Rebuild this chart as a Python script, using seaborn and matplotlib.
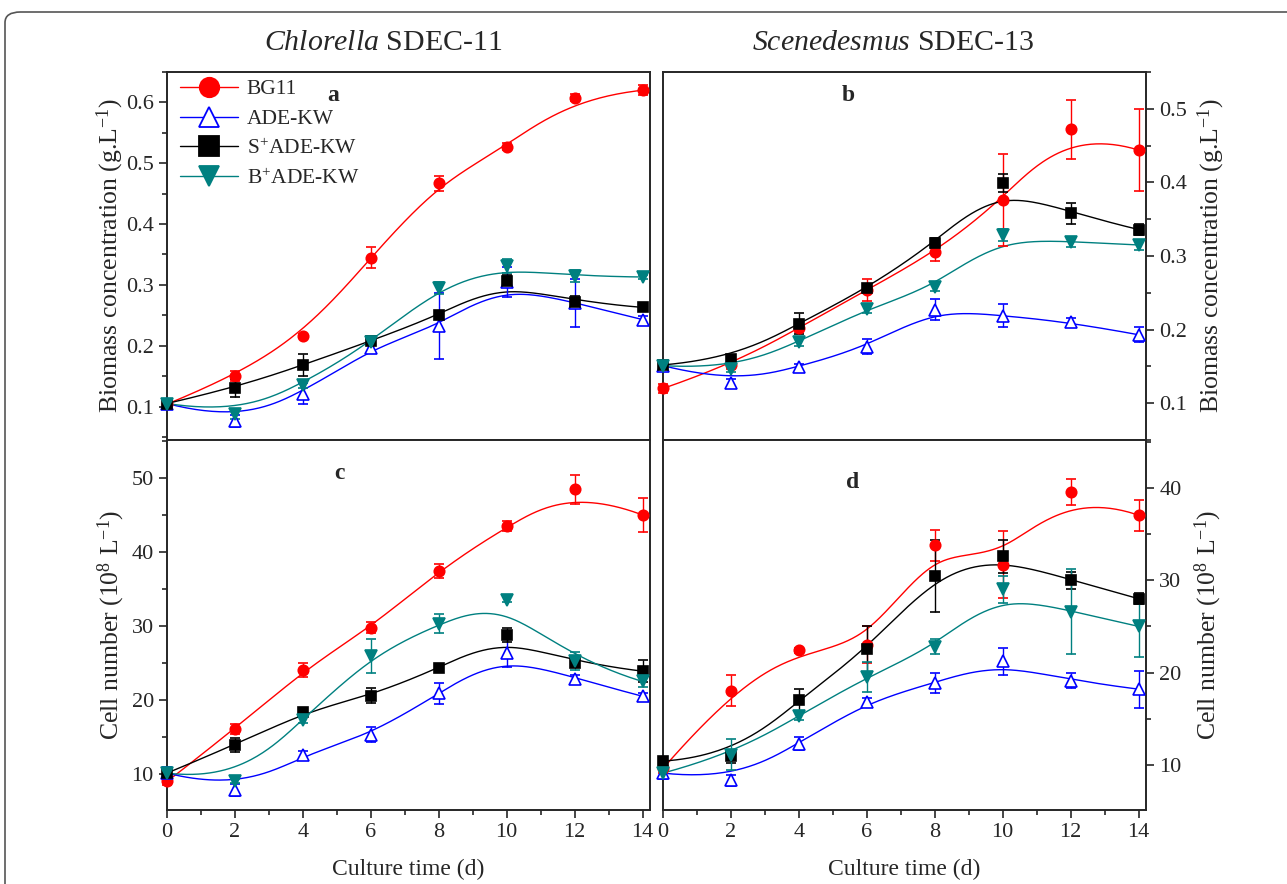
import numpy as np
import pandas as pd
import matplotlib
matplotlib.use("Agg")
import matplotlib.pyplot as plt
from matplotlib.lines import Line2D
from matplotlib.patches import FancyBboxPatch
from matplotlib.ticker import MultipleLocator
import seaborn as sns

# culture days
days = [0, 2, 4, 6, 8, 10, 12, 14]

# a: Chlorella biomass (g/L)
bg11_a = [0.104, 0.150, 0.216, 0.345, 0.467, 0.527, 0.608, 0.620]
bg11_a_err = [0.005, 0.008, 0.003, 0.018, 0.012, 0.006, 0.006, 0.008]
ade_a = [0.105, 0.076, 0.121, 0.196, 0.232, 0.305, 0.270, 0.243]
ade_a_err = [0.004, 0.010, 0.017, 0.008, 0.054, 0.025, 0.039, 0.006]
sade_a = [0.105, 0.131, 0.168, 0.208, 0.250, 0.307, 0.272, 0.263]
sade_a_err = [0.004, 0.015, 0.018, 0.005, 0.006, 0.010, 0.010, 0.004]
bade_a = [0.105, 0.088, 0.136, 0.206, 0.295, 0.331, 0.314, 0.313]
bade_a_err = [0.004, 0.008, 0.006, 0.005, 0.010, 0.012, 0.010, 0.004]

# b: Scenedesmus biomass (g/L)
bg11_b = [0.120, 0.152, 0.202, 0.254, 0.305, 0.376, 0.472, 0.444]
bg11_b_err = [0.006, 0.005, 0.005, 0.015, 0.012, 0.062, 0.040, 0.056]
ade_b = [0.151, 0.128, 0.149, 0.177, 0.227, 0.219, 0.210, 0.193]
ade_b_err = [0.004, 0.005, 0.004, 0.010, 0.014, 0.016, 0.006, 0.010]
sade_b = [0.152, 0.160, 0.208, 0.256, 0.318, 0.399, 0.358, 0.336]
sade_b_err = [0.004, 0.005, 0.014, 0.006, 0.007, 0.012, 0.014, 0.008]
bade_b = [0.151, 0.146, 0.183, 0.228, 0.258, 0.329, 0.319, 0.315]
bade_b_err = [0.004, 0.004, 0.005, 0.006, 0.006, 0.008, 0.007, 0.007]

# c: Chlorella cell number (10^8/L)
bg11_c = [8.96, 16.05, 24.07, 29.8, 37.47, 43.56, 48.5, 45.05]
bg11_c_err = [0.5, 0.7, 0.9, 0.8, 0.9, 0.7, 1.96, 2.3]
ade_c = [10.1, 7.8, 12.6, 15.3, 20.9, 26.4, 22.9, 20.5]
ade_c_err = [0.8, 0.8, 0.5, 1.0, 1.4, 1.9, 0.5, 0.4]
sade_c = [10.1, 13.9, 18.4, 20.6, 24.3, 28.8, 25.0, 23.9]
sade_c_err = [0.4, 1.0, 0.3, 1.0, 0.5, 0.9, 0.6, 1.5]
bade_c = [10.1, 9.0, 17.3, 25.9, 30.3, 33.6, 25.3, 22.5]
bade_c_err = [0.4, 0.3, 0.4, 2.3, 1.3, 0.3, 1.2, 0.8]

# d: Scenedesmus cell number (10^8/L)
bg11_d = [9.6, 18.05, 22.4, 23.0, 33.8, 31.7, 39.6, 37.05]
bg11_d_err = [0.5, 1.7, 0.3, 2.0, 1.7, 3.6, 1.4, 1.7]
ade_d = [9.1, 8.3, 12.3, 16.8, 18.9, 21.2, 19.1, 18.2]
ade_d_err = [0.6, 0.6, 0.7, 0.4, 1.1, 1.5, 0.8, 2.0]
sade_d = [10.4, 10.9, 17.0, 22.5, 30.5, 32.6, 30.0, 28.0]
sade_d_err = [0.4, 0.7, 1.2, 2.5, 3.9, 1.8, 0.9, 0.6]
bade_d = [9.1, 11.1, 15.3, 19.5, 22.8, 29.0, 26.6, 25.0]
bade_d_err = [0.5, 1.7, 0.5, 1.6, 0.8, 1.5, 4.6, 3.3]

series_names = ["BG11", "ADE-KW", "S$^{+}$ADE-KW", "B$^{+}$ADE-KW"]
colors = ["#ff0000", "#0000ff", "#000000", "#008080"]
markers = ["o", "^", "s", "v"]
filled = [True, False, True, True]
msizes = [7.5, 8.5, 7, 8.5]


def bspline_curve(x, y, n=300, deg=3):
    # clamped cubic B-spline with the data points as control points (Origin style)
    ctrl = np.column_stack([x, y]).astype(float)
    m = len(ctrl)
    knots = np.concatenate([[0] * deg, np.arange(m - deg + 1), [m - deg] * deg]).astype(float)
    t = np.linspace(0, m - deg, n)
    t[-1] -= 1e-9
    B = np.zeros((n, len(knots) - 1))
    for i in range(len(knots) - 1):
        B[:, i] = (knots[i] <= t) & (t < knots[i + 1])
    for d in range(1, deg + 1):
        Bn = np.zeros((n, len(knots) - 1 - d))
        for i in range(len(knots) - 1 - d):
            left = 0.0
            right = 0.0
            den = knots[i + d] - knots[i]
            if den > 0:
                left = (t - knots[i]) / den * B[:, i]
            den2 = knots[i + d + 1] - knots[i + 1]
            if den2 > 0:
                right = (knots[i + d + 1] - t) / den2 * B[:, i + 1]
            Bn[:, i] = left + right
        B = Bn
    pts = B @ ctrl
    return pts[:, 0], pts[:, 1]


sns.set_theme(style="ticks")
plt.rcParams["font.family"] = ["Liberation Serif", "DejaVu Serif"]
plt.rcParams["mathtext.fontset"] = "custom"
plt.rcParams["mathtext.rm"] = "Liberation Serif"
plt.rcParams["mathtext.it"] = "Liberation Serif:italic"
plt.rcParams["axes.linewidth"] = 1.4

fig = plt.figure(figsize=(12.87, 8.84), dpi=100)
W, H = 1287.0, 884.0
pos = {
    "a": [167 / W, 1 - 440 / H, 483 / W, 368 / H],
    "b": [663 / W, 1 - 440 / H, 483 / W, 368 / H],
    "c": [167 / W, 1 - 810 / H, 483 / W, 370 / H],
    "d": [663 / W, 1 - 810 / H, 483 / W, 370 / H],
}
panels = {
    "a": ([bg11_a, ade_a, sade_a, bade_a], [bg11_a_err, ade_a_err, sade_a_err, bade_a_err]),
    "b": ([bg11_b, ade_b, sade_b, bade_b], [bg11_b_err, ade_b_err, sade_b_err, bade_b_err]),
    "c": ([bg11_c, ade_c, sade_c, bade_c], [bg11_c_err, ade_c_err, sade_c_err, bade_c_err]),
    "d": ([bg11_d, ade_d, sade_d, bade_d], [bg11_d_err, ade_d_err, sade_d_err, bade_d_err]),
}
ylims = {"a": (0.045, 0.65), "b": (0.05, 0.55), "c": (5.1, 55.2), "d": (5.1, 45.2)}
ymajor = {"a": 0.1, "b": 0.1, "c": 10, "d": 10}
label_xy = {"a": (0.344, 0.935), "b": (0.383, 0.935), "c": (0.358, 0.91), "d": (0.393, 0.886)}

axes = {}
for key in ["a", "b", "c", "d"]:
    ax = fig.add_axes(pos[key])
    axes[key] = ax
    vals, errs = panels[key]
    for k in range(4):
        cx, cy = bspline_curve(days, vals[k])
        curve = pd.DataFrame({"x": cx, "y": cy})
        sns.lineplot(data=curve, x="x", y="y", ax=ax, color=colors[k], lw=1.0,
                     sort=False, estimator=None, zorder=2)
        ax.errorbar(days, vals[k], yerr=errs[k], fmt=markers[k], color=colors[k],
                    mfc=colors[k] if filled[k] else "white", mec=colors[k],
                    ms=msizes[k], mew=1.2,
                    elinewidth=1.0, capsize=3.5, capthick=1.0, zorder=3, clip_on=False)
    ax.set_xlim(0, 14.22)
    ax.set_ylim(*ylims[key])
    ax.xaxis.set_major_locator(MultipleLocator(2))
    ax.xaxis.set_minor_locator(MultipleLocator(1))
    ax.yaxis.set_major_locator(MultipleLocator(ymajor[key]))
    ax.yaxis.set_minor_locator(MultipleLocator(ymajor[key] / 2))
    ax.tick_params(which="both", direction="out", labelsize=16, width=1.2)
    ax.tick_params(which="major", length=6)
    ax.tick_params(which="minor", length=3.5)
    ax.set_xlabel("")
    ax.set_ylabel("")
    ax.text(*label_xy[key], key, transform=ax.transAxes, fontsize=17,
            fontweight="bold", ha="center", va="center")
    if key in ("b", "d"):
        ax.yaxis.tick_right()
        ax.yaxis.set_label_position("right")
    if key in ("a", "b"):
        ax.tick_params(axis="x", labelbottom=False)
    else:
        ax.set_xlabel("Culture time (d)", fontsize=17, labelpad=12)

axes["a"].set_yticks([0.1, 0.2, 0.3, 0.4, 0.5, 0.6])
axes["a"].set_ylabel("Biomass concentration (g.L$^{-1}$)", fontsize=18.5, labelpad=0)
axes["b"].set_ylabel("Biomass concentration (g.L$^{-1}$)", fontsize=18.5, labelpad=6)
axes["c"].set_ylabel("Cell number (10$^{8}$ L$^{-1}$)", fontsize=18.5, labelpad=3)
axes["d"].set_ylabel("Cell number (10$^{8}$ L$^{-1}$)", fontsize=18.5, labelpad=8)

handles = [Line2D([], [], color=colors[k], marker=markers[k], lw=1.0, ms=14, mew=1.3,
                  mfc=colors[k] if filled[k] else "white", mec=colors[k])
           for k in range(4)]
axes["a"].legend(handles, series_names, loc="upper left", frameon=False, fontsize=15.5,
                 handlelength=2.7, handletextpad=0.4, labelspacing=0.45,
                 borderaxespad=0.2, bbox_to_anchor=(0.0, 1.015))

fig.text(383 / W, 1 - 43 / H, r"$\mathit{Chlorella}$ SDEC-11", fontsize=21.5,
         ha="center", va="center")
fig.text(893 / W, 1 - 43 / H, r"$\mathit{Scenedesmus}$ SDEC-13", fontsize=21.5,
         ha="center", va="center")

frame = FancyBboxPatch((5 / W, -0.2), 1.2, 1 - 12 / H + 0.2,
                       boxstyle="round,pad=0,rounding_size=0.012",
                       transform=fig.transFigure, fill=False, ec="#555555", lw=1.2,
                       clip_on=False)
fig.patches.append(frame)

fig.savefig("out.png", dpi=100)
